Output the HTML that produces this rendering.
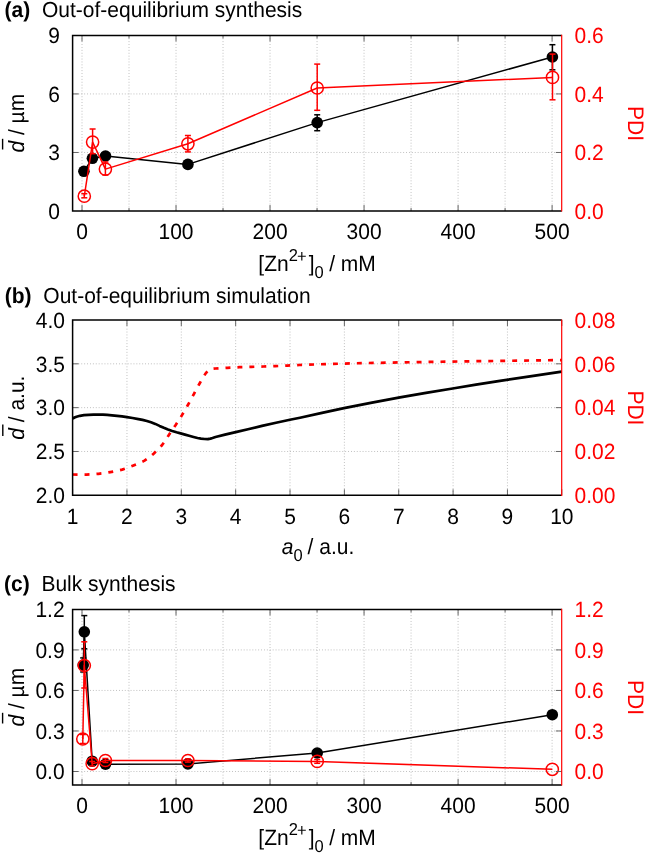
<!DOCTYPE html>
<html><head><meta charset="utf-8"><title>plot</title>
<style>
html,body{margin:0;padding:0;background:#fff;width:645px;height:854px;overflow:hidden}
.wrap{will-change:transform;width:645px;height:854px}
svg{display:block}
text{font-family:"Liberation Sans",sans-serif;font-size:21px;text-rendering:geometricPrecision}
</style></head><body><div class="wrap">
<svg width="645" height="854" viewBox="0 0 645 854">
<rect width="645" height="854" fill="#fff"/>
<line x1="82" y1="35.4" x2="82" y2="211" stroke="#aaaaaa" stroke-width="0.8" stroke-dasharray="0.9 2"/>
<line x1="129.01" y1="35.4" x2="129.01" y2="211" stroke="#aaaaaa" stroke-width="0.8" stroke-dasharray="0.9 2"/>
<line x1="176.02" y1="35.4" x2="176.02" y2="211" stroke="#aaaaaa" stroke-width="0.8" stroke-dasharray="0.9 2"/>
<line x1="223.03" y1="35.4" x2="223.03" y2="211" stroke="#aaaaaa" stroke-width="0.8" stroke-dasharray="0.9 2"/>
<line x1="270.04" y1="35.4" x2="270.04" y2="211" stroke="#aaaaaa" stroke-width="0.8" stroke-dasharray="0.9 2"/>
<line x1="317.05" y1="35.4" x2="317.05" y2="211" stroke="#aaaaaa" stroke-width="0.8" stroke-dasharray="0.9 2"/>
<line x1="364.06" y1="35.4" x2="364.06" y2="211" stroke="#aaaaaa" stroke-width="0.8" stroke-dasharray="0.9 2"/>
<line x1="411.07" y1="35.4" x2="411.07" y2="211" stroke="#aaaaaa" stroke-width="0.8" stroke-dasharray="0.9 2"/>
<line x1="458.08" y1="35.4" x2="458.08" y2="211" stroke="#aaaaaa" stroke-width="0.8" stroke-dasharray="0.9 2"/>
<line x1="505.09" y1="35.4" x2="505.09" y2="211" stroke="#aaaaaa" stroke-width="0.8" stroke-dasharray="0.9 2"/>
<line x1="552.1" y1="35.4" x2="552.1" y2="211" stroke="#aaaaaa" stroke-width="0.8" stroke-dasharray="0.9 2"/>
<line x1="72.6" y1="152.47" x2="561.8" y2="152.47" stroke="#aaaaaa" stroke-width="0.8" stroke-dasharray="0.9 2"/>
<line x1="72.6" y1="93.93" x2="561.8" y2="93.93" stroke="#aaaaaa" stroke-width="0.8" stroke-dasharray="0.9 2"/>
<polyline points="83.9,171.3 92.4,158.3 105.5,156 187.9,164.4 317.2,122.6 552.4,57" fill="none" stroke="#000000" stroke-width="1.5" stroke-linejoin="round" />
<line x1="317.2" y1="114.8" x2="317.2" y2="130.7" stroke="#000000" stroke-width="1.5" />
<line x1="314.2" y1="114.8" x2="320.2" y2="114.8" stroke="#000000" stroke-width="1.5" />
<line x1="314.2" y1="130.7" x2="320.2" y2="130.7" stroke="#000000" stroke-width="1.5" />
<line x1="552.4" y1="44.7" x2="552.4" y2="69.8" stroke="#000000" stroke-width="1.5" />
<line x1="549.4" y1="44.7" x2="555.4" y2="44.7" stroke="#000000" stroke-width="1.5" />
<line x1="549.4" y1="69.8" x2="555.4" y2="69.8" stroke="#000000" stroke-width="1.5" />
<circle cx="83.9" cy="171.3" r="5.8" fill="#000000"/>
<circle cx="92.4" cy="158.3" r="5.8" fill="#000000"/>
<circle cx="105.5" cy="156" r="5.8" fill="#000000"/>
<circle cx="187.9" cy="164.4" r="5.8" fill="#000000"/>
<circle cx="317.2" cy="122.6" r="5.8" fill="#000000"/>
<circle cx="552.4" cy="57" r="5.8" fill="#000000"/>
<polyline points="84.3,196.2 92.6,142.1 105.4,169.1 187.9,143.8 317.2,88 552.5,77.4" fill="none" stroke="#ff0000" stroke-width="1.5" stroke-linejoin="round" />
<line x1="84.3" y1="193.7" x2="84.3" y2="197.8" stroke="#ff0000" stroke-width="1.5" />
<line x1="81.3" y1="193.7" x2="87.3" y2="193.7" stroke="#ff0000" stroke-width="1.5" />
<line x1="81.3" y1="197.8" x2="87.3" y2="197.8" stroke="#ff0000" stroke-width="1.5" />
<line x1="92.6" y1="129" x2="92.6" y2="153.7" stroke="#ff0000" stroke-width="1.5" />
<line x1="89.6" y1="129" x2="95.6" y2="129" stroke="#ff0000" stroke-width="1.5" />
<line x1="89.6" y1="153.7" x2="95.6" y2="153.7" stroke="#ff0000" stroke-width="1.5" />
<line x1="105.4" y1="162" x2="105.4" y2="175" stroke="#ff0000" stroke-width="1.5" />
<line x1="102.4" y1="162" x2="108.4" y2="162" stroke="#ff0000" stroke-width="1.5" />
<line x1="102.4" y1="175" x2="108.4" y2="175" stroke="#ff0000" stroke-width="1.5" />
<line x1="187.9" y1="135.5" x2="187.9" y2="151.9" stroke="#ff0000" stroke-width="1.5" />
<line x1="184.9" y1="135.5" x2="190.9" y2="135.5" stroke="#ff0000" stroke-width="1.5" />
<line x1="184.9" y1="151.9" x2="190.9" y2="151.9" stroke="#ff0000" stroke-width="1.5" />
<line x1="317.2" y1="64.1" x2="317.2" y2="110.3" stroke="#ff0000" stroke-width="1.5" />
<line x1="314.2" y1="64.1" x2="320.2" y2="64.1" stroke="#ff0000" stroke-width="1.5" />
<line x1="314.2" y1="110.3" x2="320.2" y2="110.3" stroke="#ff0000" stroke-width="1.5" />
<line x1="552.5" y1="54.1" x2="552.5" y2="99.8" stroke="#ff0000" stroke-width="1.5" />
<line x1="549.5" y1="54.1" x2="555.5" y2="54.1" stroke="#ff0000" stroke-width="1.5" />
<line x1="549.5" y1="99.8" x2="555.5" y2="99.8" stroke="#ff0000" stroke-width="1.5" />
<circle cx="84.3" cy="196.2" r="6.1" fill="none" stroke="#ff0000" stroke-width="1.5"/>
<circle cx="92.6" cy="142.1" r="6.1" fill="none" stroke="#ff0000" stroke-width="1.5"/>
<circle cx="105.4" cy="169.1" r="6.1" fill="none" stroke="#ff0000" stroke-width="1.5"/>
<circle cx="187.9" cy="143.8" r="6.1" fill="none" stroke="#ff0000" stroke-width="1.5"/>
<circle cx="317.2" cy="88" r="6.1" fill="none" stroke="#ff0000" stroke-width="1.5"/>
<circle cx="552.5" cy="77.4" r="6.1" fill="none" stroke="#ff0000" stroke-width="1.5"/>
<line x1="82" y1="211" x2="82" y2="205" stroke="#666666" stroke-width="1" />
<line x1="82" y1="35.4" x2="82" y2="41.4" stroke="#666666" stroke-width="1" />
<line x1="176.02" y1="211" x2="176.02" y2="205" stroke="#666666" stroke-width="1" />
<line x1="176.02" y1="35.4" x2="176.02" y2="41.4" stroke="#666666" stroke-width="1" />
<line x1="270.04" y1="211" x2="270.04" y2="205" stroke="#666666" stroke-width="1" />
<line x1="270.04" y1="35.4" x2="270.04" y2="41.4" stroke="#666666" stroke-width="1" />
<line x1="364.06" y1="211" x2="364.06" y2="205" stroke="#666666" stroke-width="1" />
<line x1="364.06" y1="35.4" x2="364.06" y2="41.4" stroke="#666666" stroke-width="1" />
<line x1="458.08" y1="211" x2="458.08" y2="205" stroke="#666666" stroke-width="1" />
<line x1="458.08" y1="35.4" x2="458.08" y2="41.4" stroke="#666666" stroke-width="1" />
<line x1="552.1" y1="211" x2="552.1" y2="205" stroke="#666666" stroke-width="1" />
<line x1="552.1" y1="35.4" x2="552.1" y2="41.4" stroke="#666666" stroke-width="1" />
<line x1="129.01" y1="211" x2="129.01" y2="208" stroke="#666666" stroke-width="1" />
<line x1="129.01" y1="35.4" x2="129.01" y2="38.4" stroke="#666666" stroke-width="1" />
<line x1="223.03" y1="211" x2="223.03" y2="208" stroke="#666666" stroke-width="1" />
<line x1="223.03" y1="35.4" x2="223.03" y2="38.4" stroke="#666666" stroke-width="1" />
<line x1="317.05" y1="211" x2="317.05" y2="208" stroke="#666666" stroke-width="1" />
<line x1="317.05" y1="35.4" x2="317.05" y2="38.4" stroke="#666666" stroke-width="1" />
<line x1="411.07" y1="211" x2="411.07" y2="208" stroke="#666666" stroke-width="1" />
<line x1="411.07" y1="35.4" x2="411.07" y2="38.4" stroke="#666666" stroke-width="1" />
<line x1="505.09" y1="211" x2="505.09" y2="208" stroke="#666666" stroke-width="1" />
<line x1="505.09" y1="35.4" x2="505.09" y2="38.4" stroke="#666666" stroke-width="1" />
<line x1="72.6" y1="152.47" x2="78.6" y2="152.47" stroke="#666666" stroke-width="1" />
<line x1="561.8" y1="152.47" x2="555.8" y2="152.47" stroke="#666666" stroke-width="1" />
<line x1="72.6" y1="93.93" x2="78.6" y2="93.93" stroke="#666666" stroke-width="1" />
<line x1="561.8" y1="93.93" x2="555.8" y2="93.93" stroke="#666666" stroke-width="1" />
<polyline points="561.8,211 72.6,211 72.6,35.4 561.8,35.4" fill="none" stroke="#000000" stroke-width="1.5"/>
<line x1="561.7" y1="34.8" x2="561.7" y2="211.6" stroke="#ff0000" stroke-width="1.2" />
<text transform="translate(4.5,17.2) scale(1,1.04)" font-weight="bold">(a)</text>
<text transform="translate(42,17.2) scale(1,1.04)">Out-of-equilibrium synthesis</text>
<text transform="translate(59.9,218.7) scale(1,1.05)" text-anchor="end">0</text>
<text transform="translate(59.9,160.17) scale(1,1.05)" text-anchor="end">3</text>
<text transform="translate(59.9,101.63) scale(1,1.05)" text-anchor="end">6</text>
<text transform="translate(59.9,43.1) scale(1,1.05)" text-anchor="end">9</text>
<text transform="translate(574.5,218.7) scale(1,1.05)" fill="#ff0000">0.0</text>
<text transform="translate(574.5,160.17) scale(1,1.05)" fill="#ff0000">0.2</text>
<text transform="translate(574.5,101.63) scale(1,1.05)" fill="#ff0000">0.4</text>
<text transform="translate(574.5,43.1) scale(1,1.05)" fill="#ff0000">0.6</text>
<text transform="translate(82,239.2) scale(1,1.05)" text-anchor="middle">0</text>
<text transform="translate(176.02,239.2) scale(1,1.05)" text-anchor="middle">100</text>
<text transform="translate(270.04,239.2) scale(1,1.05)" text-anchor="middle">200</text>
<text transform="translate(364.06,239.2) scale(1,1.05)" text-anchor="middle">300</text>
<text transform="translate(458.08,239.2) scale(1,1.05)" text-anchor="middle">400</text>
<text transform="translate(552.1,239.2) scale(1,1.05)" text-anchor="middle">500</text>
<text transform="translate(258.3,270.8) scale(1,1.05)">[Zn</text>
<text transform="translate(288.7,260.9) scale(1,1.05)" style="font-size:16.5px">2</text>
<text transform="translate(296.9,261.8) scale(1,1.05)" style="font-size:16.5px">+</text>
<text transform="translate(308.8,270.8) scale(1,1.05)">]</text>
<text transform="translate(314.5,278.1) scale(1,1.05)" style="font-size:16.5px">0</text>
<text transform="translate(329.13,270.8) scale(1,1.05)">/ mM</text>
<text transform="translate(23.8,123.2) rotate(-90) scale(1,1.05)" text-anchor="middle"><tspan font-style="italic">d</tspan> / µm</text>
<line x1="2.6" y1="138.8" x2="2.6" y2="149.5" stroke="#000000" stroke-width="1.4" />
<text transform="translate(628.3,123.5) rotate(90) scale(1,1.07)" text-anchor="middle" fill="#ff0000">PDI</text>
<line x1="126.96" y1="320" x2="126.96" y2="495.3" stroke="#aaaaaa" stroke-width="0.8" stroke-dasharray="0.9 2"/>
<line x1="181.31" y1="320" x2="181.31" y2="495.3" stroke="#aaaaaa" stroke-width="0.8" stroke-dasharray="0.9 2"/>
<line x1="235.67" y1="320" x2="235.67" y2="495.3" stroke="#aaaaaa" stroke-width="0.8" stroke-dasharray="0.9 2"/>
<line x1="290.02" y1="320" x2="290.02" y2="495.3" stroke="#aaaaaa" stroke-width="0.8" stroke-dasharray="0.9 2"/>
<line x1="344.38" y1="320" x2="344.38" y2="495.3" stroke="#aaaaaa" stroke-width="0.8" stroke-dasharray="0.9 2"/>
<line x1="398.73" y1="320" x2="398.73" y2="495.3" stroke="#aaaaaa" stroke-width="0.8" stroke-dasharray="0.9 2"/>
<line x1="453.09" y1="320" x2="453.09" y2="495.3" stroke="#aaaaaa" stroke-width="0.8" stroke-dasharray="0.9 2"/>
<line x1="507.44" y1="320" x2="507.44" y2="495.3" stroke="#aaaaaa" stroke-width="0.8" stroke-dasharray="0.9 2"/>
<line x1="72.6" y1="451.48" x2="561.8" y2="451.48" stroke="#aaaaaa" stroke-width="0.8" stroke-dasharray="0.9 2"/>
<line x1="72.6" y1="407.65" x2="561.8" y2="407.65" stroke="#aaaaaa" stroke-width="0.8" stroke-dasharray="0.9 2"/>
<line x1="72.6" y1="363.82" x2="561.8" y2="363.82" stroke="#aaaaaa" stroke-width="0.8" stroke-dasharray="0.9 2"/>
<polyline points="72.6,418.7 74.5,417.5 76.5,416.7 79.9,415.8 84,415.2 88.6,414.8 93.5,414.6 98.5,414.5 103,414.6 107.2,414.9 112,415.3 117.1,415.8 122,416.4 127,417.1 132.5,418 138.4,419.1 142.5,419.9 146.9,421 151,422.3 155.3,423.9 159.5,425.9 163.8,427.8 168,429.5 172.2,431 176.5,432.3 180.6,433.4 185,434.6 189.1,435.8 193.5,437 197.5,438 201,438.6 204.5,439 207.8,439.1 210.5,438.6 212.5,438 215.5,437 225,434.6 235.7,432.1 248,429.2 262,425.9 276,422.8 289.9,419.8 300,417.7 322,412.9 344,408.1 372,402.6 400,397.3 426,392.9 452.7,388.5 476,384.7 500,380.8 530,376.3 561.8,371.7" fill="none" stroke="#000000" stroke-width="2.7" stroke-linejoin="round" />
<polyline points="72.6,474.5 80,474.6 86.6,474.6 92.5,474.3 98.5,473.8 104.5,473.1 110.3,472.1 116.2,471 122.1,469.6 127.5,467.9 132.8,465.8 138.5,463.5 144.1,460.9 149.2,457.5 153.9,453.4 158.2,449.4 162.1,445 165.5,440.3 168.7,435.2 172.2,429.9 175.7,424.9 179,420 182,415.1 185,410.1 187.9,405 191,399.5 194,393.8 196.8,388.5 199.6,383.5 202.6,378.3 205.5,373.6 207.5,371.3 209.5,369.7 211.5,368.9 215.4,368.5 227.5,367.8 239.5,367.2 251.4,366.8 263.4,366.5 275.2,366.1 287.4,365.6 299.4,365 325,364.1 350,363.4 375,362.9 400,362.4 425,362 450,361.6 475,361.2 500,360.9 530,360.5 561.8,360.1" fill="none" stroke="#ff0000" stroke-width="2.7" stroke-linejoin="round" stroke-dasharray="4.95 7" stroke-dashoffset="0"/>
<line x1="72.6" y1="495.3" x2="72.6" y2="489.3" stroke="#666666" stroke-width="1" />
<line x1="72.6" y1="320" x2="72.6" y2="326" stroke="#666666" stroke-width="1" />
<line x1="126.96" y1="495.3" x2="126.96" y2="489.3" stroke="#666666" stroke-width="1" />
<line x1="126.96" y1="320" x2="126.96" y2="326" stroke="#666666" stroke-width="1" />
<line x1="181.31" y1="495.3" x2="181.31" y2="489.3" stroke="#666666" stroke-width="1" />
<line x1="181.31" y1="320" x2="181.31" y2="326" stroke="#666666" stroke-width="1" />
<line x1="235.67" y1="495.3" x2="235.67" y2="489.3" stroke="#666666" stroke-width="1" />
<line x1="235.67" y1="320" x2="235.67" y2="326" stroke="#666666" stroke-width="1" />
<line x1="290.02" y1="495.3" x2="290.02" y2="489.3" stroke="#666666" stroke-width="1" />
<line x1="290.02" y1="320" x2="290.02" y2="326" stroke="#666666" stroke-width="1" />
<line x1="344.38" y1="495.3" x2="344.38" y2="489.3" stroke="#666666" stroke-width="1" />
<line x1="344.38" y1="320" x2="344.38" y2="326" stroke="#666666" stroke-width="1" />
<line x1="398.73" y1="495.3" x2="398.73" y2="489.3" stroke="#666666" stroke-width="1" />
<line x1="398.73" y1="320" x2="398.73" y2="326" stroke="#666666" stroke-width="1" />
<line x1="453.09" y1="495.3" x2="453.09" y2="489.3" stroke="#666666" stroke-width="1" />
<line x1="453.09" y1="320" x2="453.09" y2="326" stroke="#666666" stroke-width="1" />
<line x1="507.44" y1="495.3" x2="507.44" y2="489.3" stroke="#666666" stroke-width="1" />
<line x1="507.44" y1="320" x2="507.44" y2="326" stroke="#666666" stroke-width="1" />
<line x1="561.8" y1="495.3" x2="561.8" y2="489.3" stroke="#666666" stroke-width="1" />
<line x1="561.8" y1="320" x2="561.8" y2="326" stroke="#666666" stroke-width="1" />
<line x1="72.6" y1="451.48" x2="78.6" y2="451.48" stroke="#666666" stroke-width="1" />
<line x1="561.8" y1="451.48" x2="555.8" y2="451.48" stroke="#666666" stroke-width="1" />
<line x1="72.6" y1="407.65" x2="78.6" y2="407.65" stroke="#666666" stroke-width="1" />
<line x1="561.8" y1="407.65" x2="555.8" y2="407.65" stroke="#666666" stroke-width="1" />
<line x1="72.6" y1="363.82" x2="78.6" y2="363.82" stroke="#666666" stroke-width="1" />
<line x1="561.8" y1="363.82" x2="555.8" y2="363.82" stroke="#666666" stroke-width="1" />
<polyline points="561.8,495.3 72.6,495.3 72.6,320 561.8,320" fill="none" stroke="#000000" stroke-width="1.5"/>
<line x1="561.7" y1="319.4" x2="561.7" y2="495.9" stroke="#ff0000" stroke-width="1.2" />
<text transform="translate(4.8,302.5) scale(1,1.04)" font-weight="bold">(b)</text>
<text transform="translate(43.3,302.5) scale(1,1.04)">Out-of-equilibrium simulation</text>
<text transform="translate(65,503) scale(1,1.05)" text-anchor="end">2.0</text>
<text transform="translate(65,459.18) scale(1,1.05)" text-anchor="end">2.5</text>
<text transform="translate(65,415.35) scale(1,1.05)" text-anchor="end">3.0</text>
<text transform="translate(65,371.52) scale(1,1.05)" text-anchor="end">3.5</text>
<text transform="translate(65,327.7) scale(1,1.05)" text-anchor="end">4.0</text>
<text transform="translate(574.5,503) scale(1,1.05)" fill="#ff0000">0.00</text>
<text transform="translate(574.5,459.18) scale(1,1.05)" fill="#ff0000">0.02</text>
<text transform="translate(574.5,415.35) scale(1,1.05)" fill="#ff0000">0.04</text>
<text transform="translate(574.5,371.53) scale(1,1.05)" fill="#ff0000">0.06</text>
<text transform="translate(574.5,327.7) scale(1,1.05)" fill="#ff0000">0.08</text>
<text transform="translate(72.6,523.6) scale(1,1.05)" text-anchor="middle">1</text>
<text transform="translate(126.96,523.6) scale(1,1.05)" text-anchor="middle">2</text>
<text transform="translate(181.31,523.6) scale(1,1.05)" text-anchor="middle">3</text>
<text transform="translate(235.67,523.6) scale(1,1.05)" text-anchor="middle">4</text>
<text transform="translate(290.02,523.6) scale(1,1.05)" text-anchor="middle">5</text>
<text transform="translate(344.38,523.6) scale(1,1.05)" text-anchor="middle">6</text>
<text transform="translate(398.73,523.6) scale(1,1.05)" text-anchor="middle">7</text>
<text transform="translate(453.09,523.6) scale(1,1.05)" text-anchor="middle">8</text>
<text transform="translate(507.44,523.6) scale(1,1.05)" text-anchor="middle">9</text>
<text transform="translate(561.8,523.6) scale(1,1.05)" text-anchor="middle">10</text>
<text transform="translate(281.7,554.4) scale(1,1.05)" font-style="italic">a</text>
<text transform="translate(293.4,560.9) scale(1,1.05)" style="font-size:16.5px">0</text>
<text transform="translate(307.53,554.4) scale(1,1.05)">/ a.u.</text>
<text transform="translate(23.9,407.65) rotate(-90) scale(1,1.05)" text-anchor="middle"><tspan font-style="italic">d</tspan> / a.u.</text>
<line x1="2.8" y1="424.6" x2="2.8" y2="436.1" stroke="#000000" stroke-width="1.4" />
<text transform="translate(628.3,407.95) rotate(90) scale(1,1.07)" text-anchor="middle" fill="#ff0000">PDI</text>
<line x1="82" y1="609.4" x2="82" y2="785" stroke="#aaaaaa" stroke-width="0.8" stroke-dasharray="0.9 2"/>
<line x1="129.01" y1="609.4" x2="129.01" y2="785" stroke="#aaaaaa" stroke-width="0.8" stroke-dasharray="0.9 2"/>
<line x1="176.02" y1="609.4" x2="176.02" y2="785" stroke="#aaaaaa" stroke-width="0.8" stroke-dasharray="0.9 2"/>
<line x1="223.03" y1="609.4" x2="223.03" y2="785" stroke="#aaaaaa" stroke-width="0.8" stroke-dasharray="0.9 2"/>
<line x1="270.04" y1="609.4" x2="270.04" y2="785" stroke="#aaaaaa" stroke-width="0.8" stroke-dasharray="0.9 2"/>
<line x1="317.05" y1="609.4" x2="317.05" y2="785" stroke="#aaaaaa" stroke-width="0.8" stroke-dasharray="0.9 2"/>
<line x1="364.06" y1="609.4" x2="364.06" y2="785" stroke="#aaaaaa" stroke-width="0.8" stroke-dasharray="0.9 2"/>
<line x1="411.07" y1="609.4" x2="411.07" y2="785" stroke="#aaaaaa" stroke-width="0.8" stroke-dasharray="0.9 2"/>
<line x1="458.08" y1="609.4" x2="458.08" y2="785" stroke="#aaaaaa" stroke-width="0.8" stroke-dasharray="0.9 2"/>
<line x1="505.09" y1="609.4" x2="505.09" y2="785" stroke="#aaaaaa" stroke-width="0.8" stroke-dasharray="0.9 2"/>
<line x1="552.1" y1="609.4" x2="552.1" y2="785" stroke="#aaaaaa" stroke-width="0.8" stroke-dasharray="0.9 2"/>
<line x1="72.6" y1="771.49" x2="561.8" y2="771.49" stroke="#aaaaaa" stroke-width="0.8" stroke-dasharray="0.9 2"/>
<line x1="72.6" y1="730.97" x2="561.8" y2="730.97" stroke="#aaaaaa" stroke-width="0.8" stroke-dasharray="0.9 2"/>
<line x1="72.6" y1="690.45" x2="561.8" y2="690.45" stroke="#aaaaaa" stroke-width="0.8" stroke-dasharray="0.9 2"/>
<line x1="72.6" y1="649.92" x2="561.8" y2="649.92" stroke="#aaaaaa" stroke-width="0.8" stroke-dasharray="0.9 2"/>
<polyline points="83.2,665 84.3,631.8 92.2,761.2 105.5,764.2 187.9,763.9 317.2,753 552.3,714.7" fill="none" stroke="#000000" stroke-width="1.5" stroke-linejoin="round" />
<line x1="84.3" y1="615.6" x2="84.3" y2="648.8" stroke="#000000" stroke-width="1.5" />
<line x1="81.3" y1="615.6" x2="87.3" y2="615.6" stroke="#000000" stroke-width="1.5" />
<line x1="81.3" y1="648.8" x2="87.3" y2="648.8" stroke="#000000" stroke-width="1.5" />
<line x1="83.2" y1="657.9" x2="83.2" y2="672" stroke="#000000" stroke-width="1.5" />
<line x1="80.2" y1="657.9" x2="86.2" y2="657.9" stroke="#000000" stroke-width="1.5" />
<line x1="80.2" y1="672" x2="86.2" y2="672" stroke="#000000" stroke-width="1.5" />
<circle cx="83.2" cy="665" r="5.8" fill="#000000"/>
<circle cx="84.3" cy="631.8" r="5.8" fill="#000000"/>
<circle cx="92.2" cy="761.2" r="5.8" fill="#000000"/>
<circle cx="105.5" cy="764.2" r="5.8" fill="#000000"/>
<circle cx="187.9" cy="763.9" r="5.8" fill="#000000"/>
<circle cx="317.2" cy="753" r="5.8" fill="#000000"/>
<circle cx="552.3" cy="714.7" r="5.8" fill="#000000"/>
<polyline points="82.8,739 84.3,665.5 92.2,763.7 105.4,760.5 187.9,760.5 317.2,761.4 552.3,769.3" fill="none" stroke="#ff0000" stroke-width="1.5" stroke-linejoin="round" />
<line x1="82.8" y1="734.5" x2="82.8" y2="743.5" stroke="#ff0000" stroke-width="1.5" />
<line x1="79.8" y1="734.5" x2="85.8" y2="734.5" stroke="#ff0000" stroke-width="1.5" />
<line x1="79.8" y1="743.5" x2="85.8" y2="743.5" stroke="#ff0000" stroke-width="1.5" />
<line x1="84.3" y1="641.8" x2="84.3" y2="688" stroke="#ff0000" stroke-width="1.5" />
<line x1="81.3" y1="641.8" x2="87.3" y2="641.8" stroke="#ff0000" stroke-width="1.5" />
<line x1="81.3" y1="688" x2="87.3" y2="688" stroke="#ff0000" stroke-width="1.5" />
<line x1="92.2" y1="761.5" x2="92.2" y2="766" stroke="#ff0000" stroke-width="1.5" />
<line x1="89.2" y1="761.5" x2="95.2" y2="761.5" stroke="#ff0000" stroke-width="1.5" />
<line x1="89.2" y1="766" x2="95.2" y2="766" stroke="#ff0000" stroke-width="1.5" />
<line x1="105.4" y1="758.5" x2="105.4" y2="762.5" stroke="#ff0000" stroke-width="1.5" />
<line x1="102.4" y1="758.5" x2="108.4" y2="758.5" stroke="#ff0000" stroke-width="1.5" />
<line x1="102.4" y1="762.5" x2="108.4" y2="762.5" stroke="#ff0000" stroke-width="1.5" />
<line x1="187.9" y1="758.9" x2="187.9" y2="762.1" stroke="#ff0000" stroke-width="1.5" />
<line x1="184.9" y1="758.9" x2="190.9" y2="758.9" stroke="#ff0000" stroke-width="1.5" />
<line x1="184.9" y1="762.1" x2="190.9" y2="762.1" stroke="#ff0000" stroke-width="1.5" />
<line x1="317.2" y1="759.5" x2="317.2" y2="763.3" stroke="#ff0000" stroke-width="1.5" />
<line x1="314.2" y1="759.5" x2="320.2" y2="759.5" stroke="#ff0000" stroke-width="1.5" />
<line x1="314.2" y1="763.3" x2="320.2" y2="763.3" stroke="#ff0000" stroke-width="1.5" />
<circle cx="82.8" cy="739" r="6.1" fill="none" stroke="#ff0000" stroke-width="1.5"/>
<circle cx="84.3" cy="665.5" r="6.1" fill="none" stroke="#ff0000" stroke-width="1.5"/>
<circle cx="92.2" cy="763.7" r="6.1" fill="none" stroke="#ff0000" stroke-width="1.5"/>
<circle cx="105.4" cy="760.5" r="6.1" fill="none" stroke="#ff0000" stroke-width="1.5"/>
<circle cx="187.9" cy="760.5" r="6.1" fill="none" stroke="#ff0000" stroke-width="1.5"/>
<circle cx="317.2" cy="761.4" r="6.1" fill="none" stroke="#ff0000" stroke-width="1.5"/>
<circle cx="552.3" cy="769.3" r="6.1" fill="none" stroke="#ff0000" stroke-width="1.5"/>
<line x1="82" y1="785" x2="82" y2="779" stroke="#666666" stroke-width="1" />
<line x1="82" y1="609.4" x2="82" y2="615.4" stroke="#666666" stroke-width="1" />
<line x1="176.02" y1="785" x2="176.02" y2="779" stroke="#666666" stroke-width="1" />
<line x1="176.02" y1="609.4" x2="176.02" y2="615.4" stroke="#666666" stroke-width="1" />
<line x1="270.04" y1="785" x2="270.04" y2="779" stroke="#666666" stroke-width="1" />
<line x1="270.04" y1="609.4" x2="270.04" y2="615.4" stroke="#666666" stroke-width="1" />
<line x1="364.06" y1="785" x2="364.06" y2="779" stroke="#666666" stroke-width="1" />
<line x1="364.06" y1="609.4" x2="364.06" y2="615.4" stroke="#666666" stroke-width="1" />
<line x1="458.08" y1="785" x2="458.08" y2="779" stroke="#666666" stroke-width="1" />
<line x1="458.08" y1="609.4" x2="458.08" y2="615.4" stroke="#666666" stroke-width="1" />
<line x1="552.1" y1="785" x2="552.1" y2="779" stroke="#666666" stroke-width="1" />
<line x1="552.1" y1="609.4" x2="552.1" y2="615.4" stroke="#666666" stroke-width="1" />
<line x1="129.01" y1="785" x2="129.01" y2="782" stroke="#666666" stroke-width="1" />
<line x1="129.01" y1="609.4" x2="129.01" y2="612.4" stroke="#666666" stroke-width="1" />
<line x1="223.03" y1="785" x2="223.03" y2="782" stroke="#666666" stroke-width="1" />
<line x1="223.03" y1="609.4" x2="223.03" y2="612.4" stroke="#666666" stroke-width="1" />
<line x1="317.05" y1="785" x2="317.05" y2="782" stroke="#666666" stroke-width="1" />
<line x1="317.05" y1="609.4" x2="317.05" y2="612.4" stroke="#666666" stroke-width="1" />
<line x1="411.07" y1="785" x2="411.07" y2="782" stroke="#666666" stroke-width="1" />
<line x1="411.07" y1="609.4" x2="411.07" y2="612.4" stroke="#666666" stroke-width="1" />
<line x1="505.09" y1="785" x2="505.09" y2="782" stroke="#666666" stroke-width="1" />
<line x1="505.09" y1="609.4" x2="505.09" y2="612.4" stroke="#666666" stroke-width="1" />
<line x1="72.6" y1="771.49" x2="78.6" y2="771.49" stroke="#666666" stroke-width="1" />
<line x1="561.8" y1="771.49" x2="555.8" y2="771.49" stroke="#666666" stroke-width="1" />
<line x1="72.6" y1="730.97" x2="78.6" y2="730.97" stroke="#666666" stroke-width="1" />
<line x1="561.8" y1="730.97" x2="555.8" y2="730.97" stroke="#666666" stroke-width="1" />
<line x1="72.6" y1="690.45" x2="78.6" y2="690.45" stroke="#666666" stroke-width="1" />
<line x1="561.8" y1="690.45" x2="555.8" y2="690.45" stroke="#666666" stroke-width="1" />
<line x1="72.6" y1="649.92" x2="78.6" y2="649.92" stroke="#666666" stroke-width="1" />
<line x1="561.8" y1="649.92" x2="555.8" y2="649.92" stroke="#666666" stroke-width="1" />
<polyline points="561.8,785 72.6,785 72.6,609.4 561.8,609.4" fill="none" stroke="#000000" stroke-width="1.5"/>
<line x1="561.7" y1="608.8" x2="561.7" y2="785.6" stroke="#ff0000" stroke-width="1.2" />
<text transform="translate(4,591.3) scale(1,1.04)" font-weight="bold">(c)</text>
<text transform="translate(41.4,591.3) scale(1,1.04)">Bulk synthesis</text>
<text transform="translate(64.6,779.19) scale(1,1.05)" text-anchor="end">0.0</text>
<text transform="translate(64.6,738.67) scale(1,1.05)" text-anchor="end">0.3</text>
<text transform="translate(64.6,698.15) scale(1,1.05)" text-anchor="end">0.6</text>
<text transform="translate(64.6,657.62) scale(1,1.05)" text-anchor="end">0.9</text>
<text transform="translate(64.6,617.1) scale(1,1.05)" text-anchor="end">1.2</text>
<text transform="translate(574.5,779.19) scale(1,1.05)" fill="#ff0000">0.0</text>
<text transform="translate(574.5,738.67) scale(1,1.05)" fill="#ff0000">0.3</text>
<text transform="translate(574.5,698.15) scale(1,1.05)" fill="#ff0000">0.6</text>
<text transform="translate(574.5,657.62) scale(1,1.05)" fill="#ff0000">0.9</text>
<text transform="translate(574.5,617.1) scale(1,1.05)" fill="#ff0000">1.2</text>
<text transform="translate(82,813.3) scale(1,1.05)" text-anchor="middle">0</text>
<text transform="translate(176.02,813.3) scale(1,1.05)" text-anchor="middle">100</text>
<text transform="translate(270.04,813.3) scale(1,1.05)" text-anchor="middle">200</text>
<text transform="translate(364.06,813.3) scale(1,1.05)" text-anchor="middle">300</text>
<text transform="translate(458.08,813.3) scale(1,1.05)" text-anchor="middle">400</text>
<text transform="translate(552.1,813.3) scale(1,1.05)" text-anchor="middle">500</text>
<text transform="translate(258.3,844.8) scale(1,1.05)">[Zn</text>
<text transform="translate(288.7,834.9) scale(1,1.05)" style="font-size:16.5px">2</text>
<text transform="translate(296.9,835.8) scale(1,1.05)" style="font-size:16.5px">+</text>
<text transform="translate(308.8,844.8) scale(1,1.05)">]</text>
<text transform="translate(314.5,852.1) scale(1,1.05)" style="font-size:16.5px">0</text>
<text transform="translate(329.13,844.8) scale(1,1.05)">/ mM</text>
<text transform="translate(23.8,697.2) rotate(-90) scale(1,1.05)" text-anchor="middle"><tspan font-style="italic">d</tspan> / µm</text>
<line x1="2.6" y1="712.8" x2="2.6" y2="723.5" stroke="#000000" stroke-width="1.4" />
<text transform="translate(628.3,697.5) rotate(90) scale(1,1.07)" text-anchor="middle" fill="#ff0000">PDI</text>
</svg></div>
</body></html>
